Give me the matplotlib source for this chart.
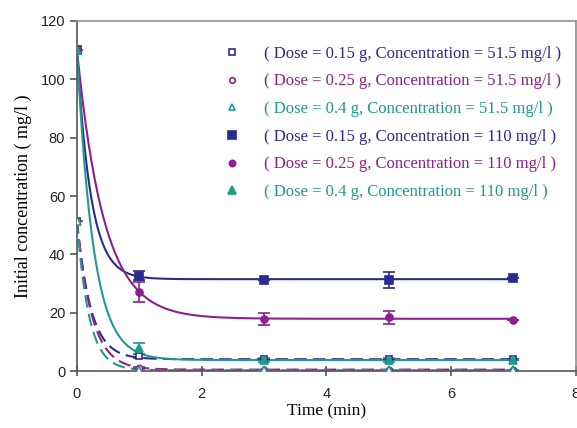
import numpy as np
import matplotlib
matplotlib.use("Agg")
import matplotlib.pyplot as plt
from matplotlib.lines import Line2D

# sampling times (min)
time = [0, 1, 3, 5, 7]

# measured concentrations (mg/l)
c015_515 = [51.5, 5.2, 4.0, 4.0, 4.2]
c025_515 = [51.5, 1.0, 0.5, 0.5, 0.5]
c04_515 = [51.5, 0.5, 0.3, 0.3, 0.3]
c015_110 = [110, 32.7, 31.3, 31.3, 31.9]
c025_110 = [110, 27.0, 17.8, 18.5, 17.5]
c04_110 = [110, 7.8, 3.8, 3.8, 3.8]

# error bars
e015_515 = [0, 0.8, 0, 0, 0]
e025_515 = [0, 0.4, 0, 0, 0]
e04_515 = [0, 0, 0, 0, 0]
e015_110 = [0, 1.5, 0, 2.8, 0]
e025_110 = [0, 3.4, 2.0, 2.2, 0]
e04_110 = [0, 1.9, 0.8, 0.8, 0]

# first-order rate constants of the fitted curves (1/min)
fit_rate = [4.5, 4.2, 5.2, 4.5, 2.3, 3.8]

labels = [
    "( Dose = 0.15 g, Concentration = 51.5 mg/l )",
    "( Dose = 0.25 g, Concentration = 51.5 mg/l )",
    "( Dose = 0.4 g, Concentration = 51.5 mg/l )",
    "( Dose = 0.15 g, Concentration = 110 mg/l )",
    "( Dose = 0.25 g, Concentration = 110 mg/l )",
    "( Dose = 0.4 g, Concentration = 110 mg/l )",
]

blue = "#2b2b8f"
purple = "#8e1f8e"
teal = "#1f9a8c"

series = [c015_515, c025_515, c04_515, c015_110, c025_110, c04_110]
errs = [e015_515, e025_515, e04_515, e015_110, e025_110, e04_110]
colors = [blue, purple, teal, blue, purple, teal]
markers = ["s", "o", "^", "s", "o", "^"]
filled = [False, False, False, True, True, True]
msizes = [5, 4.5, 5.5, 6, 5, 6]

fig = plt.figure(figsize=(5.77, 4.28), dpi=100)
ax = fig.add_axes([0.1334, 0.133, 0.8646, 0.818])

tt = np.linspace(0, 7, 300)
for i in range(6):
    y = np.array(series[i], dtype=float)
    c = y[2:].mean()
    curve = c + (y[0] - c) * np.exp(-fit_rate[i] * tt)
    ls = (0, (6, 3)) if not filled[i] else "-"
    ax.plot(tt, curve, color=colors[i], lw=1.5, ls=ls, zorder=2)

handles = []
for i in range(6):
    fc = colors[i] if filled[i] else "white"
    ax.errorbar(time, series[i], yerr=errs[i], fmt=markers[i], color=colors[i],
                mfc=fc, mec=colors[i], ms=msizes[i], mew=1.2, capsize=4,
                elinewidth=1.2, zorder=3)
    handles.append(Line2D([], [], ls="none", marker=markers[i], color=colors[i],
                          mfc=fc, mec=colors[i], ms=msizes[i] - 0.5, mew=1.2))

leg = ax.legend(handles, labels, loc="upper left", bbox_to_anchor=(0.268, 0.972),
                frameon=False, handlelength=0.8, handletextpad=1.5, labelspacing=0.7,
                prop={"family": "Liberation Serif", "size": 12})
for txt, col in zip(leg.get_texts(), colors):
    txt.set_color(col)

ax.set_xlim(0, 8)
ax.set_ylim(0, 120)
ax.set_xticks([0, 2, 4, 6, 8])
ax.set_yticks(range(0, 121, 20))
for name, sp in ax.spines.items():
    sp.set_linewidth(1.2)
    sp.set_color("#555555" if name in ("left", "bottom") else "#909090")
ax.tick_params(axis="x", direction="inout", length=7, width=1.2, color="#555555", pad=8)
ax.tick_params(axis="y", direction="out", length=5, width=1.2, color="#555555")
ax.tick_params(right=False, top=False)
for lab in ax.get_xticklabels() + ax.get_yticklabels():
    lab.set_family("Liberation Sans")
    lab.set_fontsize(10.5)
    lab.set_color("#222222")

ax.set_xlabel("Time (min)", family="Liberation Serif", fontsize=12.5, labelpad=2)
ax.set_ylabel("Initial concentration ( mg/l )", family="Liberation Serif",
              fontsize=13, labelpad=6)

fig.savefig("out.png", dpi=100)
